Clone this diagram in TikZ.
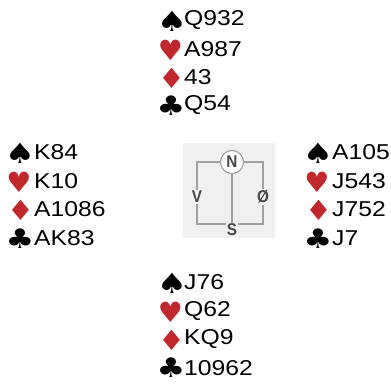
\documentclass[tikz,border=0pt]{standalone}
\usepackage{fontspec}
\setmainfont{Liberation Sans}
\newfontfamily\symfont{DejaVu Sans}
\definecolor{suitred}{HTML}{C0282D}
\definecolor{boxgray}{HTML}{F0F0F0}
\definecolor{framegray}{HTML}{A0A0A0}
\definecolor{lblgray}{HTML}{484848}
\newcommand{\hd}[1]{\scalebox{1.15}[1]{#1}}
\newcommand{\spd}{\scalebox{1.35}[1.12]{♠}}
\newcommand{\hrt}{\scalebox{1.12}[1.12]{♥}}
\newcommand{\dmd}{\scalebox{1.2}[1.12]{♦}}
\newcommand{\clb}{\scalebox{1.28}[1.08]{♣}}
\newcommand{\lb}[1]{\scalebox{0.9}[1]{#1}}
\tikzset{
  cards/.style={anchor=west, inner sep=0pt, text=black, font=\fontsize{21.5}{21.5}\selectfont},
  suitsym/.style={anchor=center, inner sep=0pt, font=\symfont\fontsize{25}{25}\selectfont},
  blacksuit/.style={suitsym, text=black},
  redsuit/.style={suitsym, text=suitred},
  dirlbl/.style={inner sep=1pt, fill=boxgray, text=lblgray, font=\bfseries\fontsize{17}{17}\selectfont},
  frameline/.style={draw=framegray, line width=1.1pt}
}
\begin{document}
\begin{tikzpicture}[x=1pt,y=-1pt]
\useasboundingbox (0,0) rectangle (391,383);
% North
\node[blacksuit] (ns) at (172,21) {\spd};
\node[cards] (nst) at (184,20.5) {\hd{Q932}};
\node[redsuit] (nh) at (170.5,50) {\hrt};
\node[cards] (nht) at (184,48.8) {\hd{A987}};
\node[redsuit] (nd) at (171.5,78) {\dmd};
\node[cards] (ndt) at (184,77.1) {\hd{43}};
\node[blacksuit] (nc) at (171,105.5) {\clb};
\node[cards] (nct) at (184,105.4) {\hd{Q54}};
% West
\node[blacksuit] (ws) at (20,153) {\spd};
\node[cards] (wst) at (34,152.5) {\hd{K84}};
\node[redsuit] (wh) at (19,182) {\hrt};
\node[cards] (wht) at (34,181) {\hd{K10}};
\node[redsuit] (wd) at (20.5,210) {\dmd};
\node[cards] (wdt) at (34,209.5) {\hd{A1086}};
\node[blacksuit] (wc) at (20,238.5) {\clb};
\node[cards] (wct) at (34,238) {\hd{AK83}};
% East
\node[blacksuit] (es) at (318,153) {\spd};
\node[cards] (est) at (332,152.5) {\hd{A105}};
\node[redsuit] (eh) at (317,182) {\hrt};
\node[cards] (eht) at (332,181) {\hd{J543}};
\node[redsuit] (ed) at (318.5,210) {\dmd};
\node[cards] (edt) at (332,209.5) {\hd{J752}};
\node[blacksuit] (ec) at (318,238.5) {\clb};
\node[cards] (ect) at (332,238) {\hd{J7}};
% South
\node[blacksuit] (ss) at (172,283) {\spd};
\node[cards] (sst) at (184,282.5) {\hd{J76}};
\node[redsuit] (sh) at (170.5,312) {\hrt};
\node[cards] (sht) at (184,311) {\hd{Q62}};
\node[redsuit] (sd) at (171.5,340) {\dmd};
\node[cards] (sdt) at (184,339.5) {\hd{KQ9}};
\node[blacksuit] (sc) at (171,368) {\clb};
\node[cards] (sct) at (184,368) {\hd{10962}};
% Compass
\fill[boxgray] (183,143) rectangle (275,238);
\coordinate (tl) at (197,162);
\coordinate (tr) at (263,162);
\coordinate (bl) at (197,224);
\coordinate (br) at (263,224);
\node[circle, draw=framegray, line width=1.1pt, fill=white, minimum size=23pt, inner sep=0pt, text=lblgray, font=\bfseries\fontsize{17}{17}\selectfont] (N) at (232,162) {\lb{N}};
\node[dirlbl] (S) at (232,230) {\lb{S}};
\node[dirlbl] (V) at (197,197) {\lb{V}};
\node[dirlbl] (O) at (263,197) {\lb{Ø}};
\draw[frameline] (N.west) -- (tl) -- (V.north);
\draw[frameline] (V.south) -- (bl) -- (S.west |- bl);
\draw[frameline] (S.east |- br) -- (br) -- (O.south);
\draw[frameline] (O.north) -- (tr) -- (N.east);
\draw[frameline] (N.south) -- (S.north);
\end{tikzpicture}
\end{document}
